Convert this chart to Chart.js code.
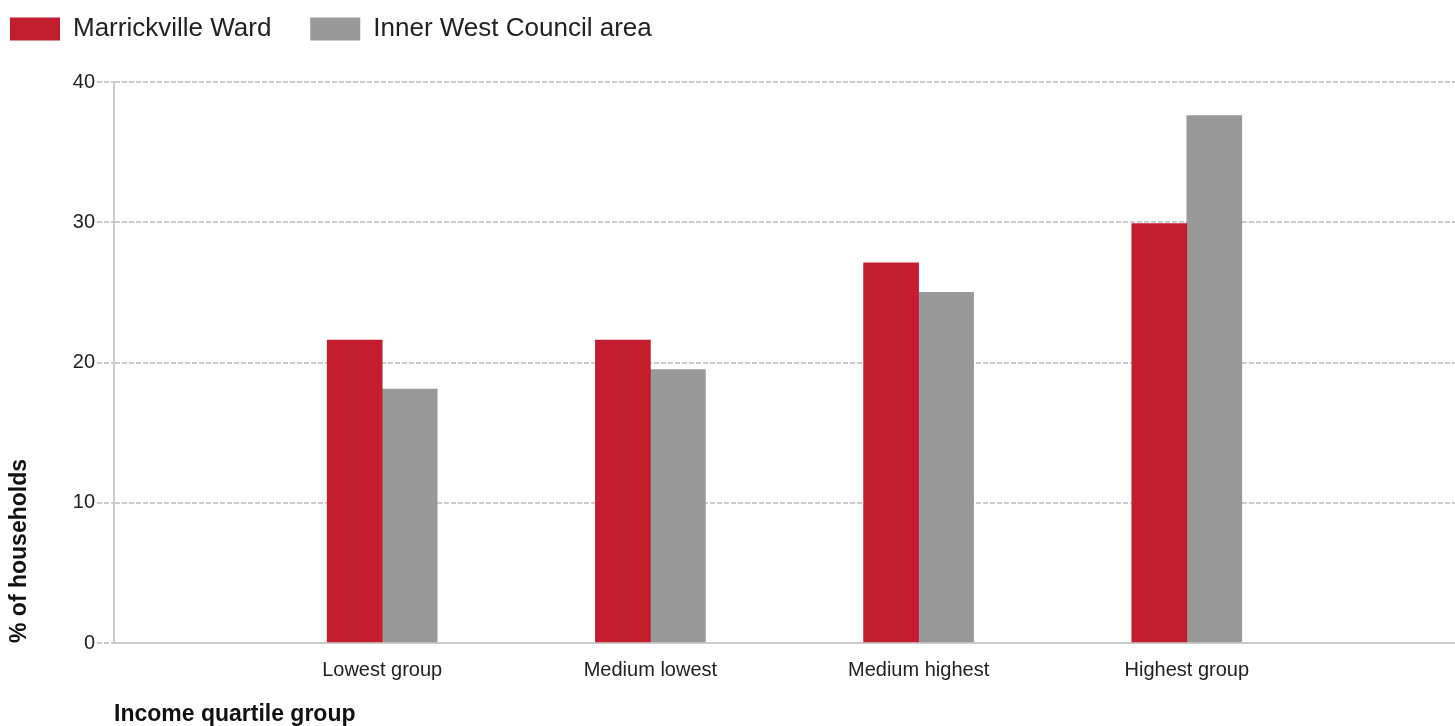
<!DOCTYPE html>
<html>
<head>
<meta charset="utf-8">
<script src="https://cdn.jsdelivr.net/npm/chart.js@4.4.0/dist/chart.umd.min.js"></script>
<style>
  html, body { margin: 0; padding: 0; background: #fff; }
  #wrap { width: 1455px; height: 726px; }
</style>
</head>
<body>
<div id="wrap"><canvas id="incomeChart" width="1455" height="726"></canvas></div>
<script>
// empty slots at each end so the groups sit one step in from the edges
const categories = ['', 'Lowest group', 'Medium lowest', 'Medium highest', 'Highest group', ''];
const marrickville = [null, 21.6, 21.6, 27.1, 29.9, null];
const innerWest = [null, 18.1, 19.5, 25.0, 37.6, null];
const yTicks = [0, 10, 20, 30, 40];

const RED = '#c21e2d';
const GREY = '#999999';
const LINE = '#cccccc';
const FONT = "'Liberation Sans', Arial, sans-serif";

// push the plot area down below the legend
const legendSpacer = {
    id: 'legendSpacer',
    beforeInit(chart) {
        const fit = chart.legend.fit;
        chart.legend.fit = function() {
            fit.bind(chart.legend)();
            this.height += 30;
        };
    }
};

new Chart(document.getElementById('incomeChart'), {
    type: 'bar',
    data: {
        labels: categories,
        datasets: [
            { label: 'Marrickville Ward', data: marrickville, backgroundColor: RED, barThickness: 55 },
            { label: 'Inner West Council area', data: innerWest, backgroundColor: GREY, barThickness: 55 }
        ]
    },
    options: {
        responsive: false,
        animation: false,
        layout: { padding: { top: 6, right: 0, bottom: 0, left: 0 } },
        plugins: {
            tooltip: { enabled: false },
            legend: {
                display: true,
                position: 'top',
                align: 'start',
                labels: {
                    boxWidth: 50,
                    boxHeight: 23,
                    padding: 10,
                    color: '#222',
                    font: { family: FONT, size: 26 },
                    generateLabels(chart) {
                        return chart.data.datasets.map((ds, i) => ({
                            text: i === 0 ? ds.label + '    ' : ds.label,
                            fillStyle: ds.backgroundColor,
                            strokeStyle: ds.backgroundColor,
                            lineWidth: 0,
                            hidden: false,
                            datasetIndex: i,
                            fontColor: '#222'
                        }));
                    }
                }
            }
        },
        scales: {
            x: {
                offset: false,
                grid: { display: false, drawTicks: false },
                border: { display: true, color: LINE, width: 2 },
                ticks: {
                    autoSkip: false,
                    maxRotation: 0,
                    padding: 15,
                    color: '#222',
                    font: { family: FONT, size: 20 }
                },
                title: {
                    display: true,
                    text: 'Income quartile group',
                    align: 'start',
                    color: '#111',
                    padding: { top: 0, bottom: 0 },
                    font: { family: FONT, size: 23, weight: 'bold', lineHeight: 1 }
                },
                afterFit(scale) {
                    scale.height = 83;
                    scale.paddingLeft = 0;
                    scale.paddingRight = 0;
                }
            },
            y: {
                min: 0,
                max: 40,
                afterBuildTicks(scale) { scale.ticks = yTicks.map(v => ({ value: v })); },
                grid: {
                    color: LINE,
                    lineWidth: 2,
                    tickLength: 17,
                    tickColor: LINE,
                    tickBorderDash: [5, 2]
                },
                border: { display: true, color: LINE, width: 2, dash: [5, 2] },
                ticks: {
                    padding: 2,
                    color: '#222',
                    font: { family: FONT, size: 20 }
                },
                title: {
                    display: true,
                    text: '% of households',
                    align: 'start',
                    color: '#111',
                    padding: { top: 8, bottom: 0 },
                    font: { family: FONT, size: 23, weight: 'bold', lineHeight: 1 }
                },
                afterFit(scale) { scale.width = 114; }
            }
        }
    },
    plugins: [legendSpacer]
});
</script>
</body>
</html>
